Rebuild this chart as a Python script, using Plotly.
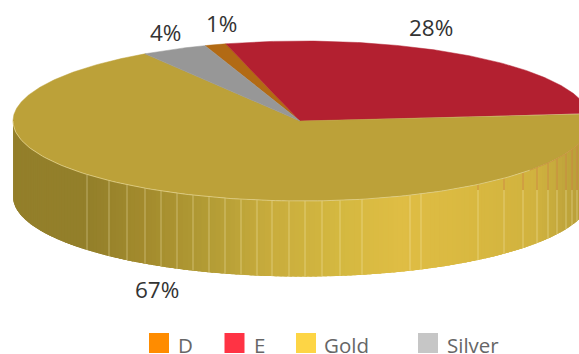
import math
import numpy as np
import plotly.graph_objects as go

# ---- data ----
categories = ["D", "E", "Gold", "Silver"]
values = [1.2, 27.7, 67.4, 3.7]
percent_labels = ["1%", "28%", "67%", "4%"]

# ---- style ----
legend_colors = ["#ff8c00", "#ff3344", "#fdd545", "#c6c6c6"]
top_colors = ["#b26a14", "#b32030", "#bca139", "#979797"]
label_pos = [(221, 23.5), (431, 27.5), (157, 289.5), (165, 32.5)]
legend_swatch_x = [159, 234.5, 306, 428]
legend_text_x = [176, 252, 322, 445]
wall_stops = [(13, "#937f2a"), (87, "#937f2a"), (145, "#a38b2d"), (209, "#b39c35"),
              (273, "#c9ad3d"), (340, "#d4b840"), (400, "#dfbd44"), (478, "#d8b840"),
              (537, "#d0b23f"), (587, "#b49c38")]
seam_x = [87, 109, 127, 145, 161, 177, 193, 209, 225, 241, 257, 272, 289, 305, 322,
          340, 362, 410, 421, 478, 504, 523, 537, 548, 557, 566, 572, 577]

CX, CY, RX, RY, DEPTH = 302.0, 121.0, 289.0, 80.0, 75.5
APEX_X, APEX_Y = 300.0, 121.0
START_DEG = -19.6


def pt(deg):
    r = math.radians(deg)
    return CX + RX * math.sin(r), CY - RY * math.cos(r)


def hex2rgb(h):
    return np.array([int(h[i:i + 2], 16) for i in (1, 3, 5)], float)


def wall_color(x):
    xs = [s[0] for s in wall_stops]
    cs = np.array([hex2rgb(s[1]) for s in wall_stops])
    rgb = [np.interp(x, xs, cs[:, i]) for i in range(3)]
    return "rgb(%d,%d,%d)" % tuple(round(v) for v in rgb)


fig = go.Figure()
total = sum(values)

# slice spans from the values
spans = []
a = START_DEG
for v in values:
    b = a + v / total * 360
    spans.append((a, b))
    a = b

# front wall: painter's order, from the left edge (270 deg) towards the right (90 deg);
# each strip reaches under the next so no seam lets the background through
for (a, b) in spans:
    lo, hi = max(a, 90), min(b, 270)
    if hi <= lo:
        continue
    n = int((hi - lo) / 1.0) + 1
    edges = np.linspace(lo, hi, n + 1)
    for i in range(n - 1, -1, -1):
        e0, e1 = edges[i], edges[i + 1]
        far = max(e0 - 1.5, lo)
        arc = [pt(t) for t in np.linspace(far, e1, 5)]
        xs = [p[0] for p in arc]
        tops = [p[1] for p in arc]
        col = wall_color((pt(e0)[0] + pt(e1)[0]) / 2)
        fig.add_trace(go.Scatter(
            x=xs + xs[::-1] + [xs[0]],
            y=tops + [t + DEPTH for t in tops[::-1]] + [tops[0]],
            mode="lines", fill="toself", fillcolor=col,
            line=dict(width=0), hoverinfo="skip", showlegend=False))

# wall seams
lx, ly, ox, oy = [], [], [], []
for x in seam_x:
    t = math.sqrt(1 - ((x - CX) / RX) ** 2)
    y_top = CY + RY * t
    y_bot = y_top + DEPTH
    if x >= 470:
        ox += [x, x, None]
        oy += [y_top, 190, None]
        lx += [x, x, None]
        ly += [190, y_bot, None]
    else:
        lx += [x, x, None]
        ly += [y_top, y_bot, None]
fig.add_trace(go.Scatter(x=lx, y=ly, mode="lines", hoverinfo="skip", showlegend=False,
                         line=dict(color="rgba(255,245,200,0.4)", width=1)))
fig.add_trace(go.Scatter(x=ox, y=oy, mode="lines", hoverinfo="skip", showlegend=False,
                         line=dict(color="rgba(205,130,70,0.75)", width=1)))

# top face
for (a, b), col in zip(spans, top_colors):
    th = np.linspace(a, b, max(4, int(b - a) * 2))
    pts = [pt(t) for t in th]
    xs = [APEX_X] + [p[0] for p in pts] + [APEX_X]
    ys = [APEX_Y] + [p[1] for p in pts] + [APEX_Y]
    fig.add_trace(go.Scatter(x=xs, y=ys, mode="lines", fill="toself", fillcolor=col,
                             line=dict(color=col, width=0.5), hoverinfo="skip",
                             showlegend=False))

# rim highlight on the front edge of the top face
for lo, hi, c in [(128, 270, "rgba(240,228,170,0.7)"), (90, 128, "rgba(208,140,70,0.7)")]:
    th = np.linspace(lo, hi, 120)
    p = [pt(t) for t in th]
    fig.add_trace(go.Scatter(x=[q[0] for q in p], y=[q[1] for q in p], mode="lines",
                             line=dict(color=c, width=0.8), hoverinfo="skip", showlegend=False))

# legend swatches
fig.add_trace(go.Scatter(x=legend_swatch_x, y=[343] * 4, mode="markers", hoverinfo="skip",
                         showlegend=False, cliponaxis=False,
                         marker=dict(symbol="square", size=20, color=legend_colors,
                                     line=dict(width=0))))

annotations = []
for txt, (x, y) in zip(percent_labels, label_pos):
    annotations.append(dict(x=x, y=y, text=txt, showarrow=False, xanchor="center", yanchor="middle",
                            font=dict(family="Open Sans", size=22.5, color="#333333")))
for txt, x in zip(categories, legend_text_x):
    annotations.append(dict(x=x, y=344.5, text=txt, showarrow=False, xanchor="left", yanchor="middle",
                            font=dict(family="Open Sans", size=20.5, color="#666666")))

fig.update_layout(
    width=579, height=354, autosize=False,
    margin=dict(l=0, r=0, t=0, b=0),
    paper_bgcolor="white", plot_bgcolor="white",
    showlegend=False, annotations=annotations,
    xaxis=dict(range=[0, 579], visible=False, fixedrange=True),
    yaxis=dict(range=[354, 0], visible=False, fixedrange=True),
)

fig.write_html("out.html", config=dict(displayModeBar=False),
               post_script="document.body.style.margin='0';document.body.style.overflow='hidden';")
